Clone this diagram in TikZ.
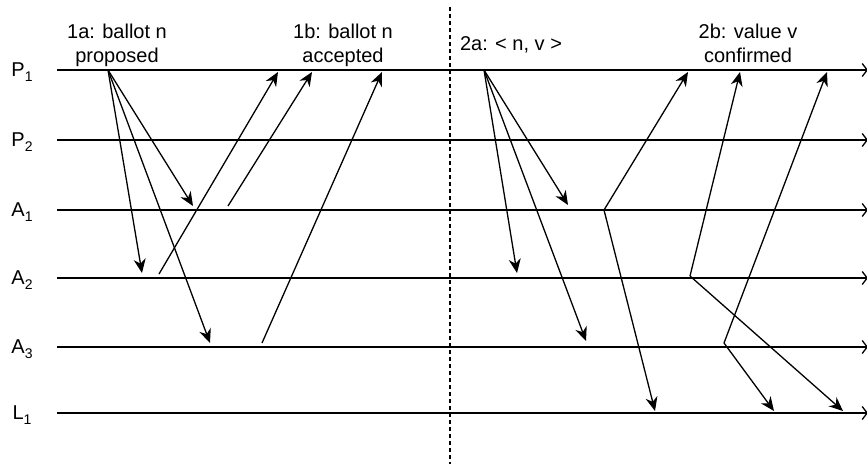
\documentclass[tikz,border=0pt]{standalone}
\usepackage{fontspec}
\setmainfont{Liberation Sans}
\usetikzlibrary{arrows.meta}
\newcommand{\procname}[2]{#1\raisebox{-5pt}{\fontsize{14}{14}\selectfont #2}}
\begin{document}
\begin{tikzpicture}[x=1pt,y=-1pt,
  timeline/.style={line width=1.5pt, -{Straight Barb[length=5pt,width=13pt,line width=1.3pt]}},
  msg/.style={line width=1.3pt, -{Stealth[length=14pt,width=12pt,inset=4.5pt]}},
  divider/.style={line width=1.3pt, dash pattern=on 4pt off 3pt},
  lbl/.style={font=\fontsize{20}{24}\selectfont, inner sep=0pt, anchor=base},
  note/.style={font=\fontsize{20}{24}\selectfont, inner sep=0pt, align=center, anchor=base}]
\useasboundingbox (0,0) rectangle (867,464);

% process labels
\node[lbl] (lP1) at (22,76) {\procname{P}{1}};
\node[lbl] (lP2) at (22,146) {\procname{P}{2}};
\node[lbl] (lA1) at (22,216) {\procname{A}{1}};
\node[lbl] (lA2) at (22,284) {\procname{A}{2}};
\node[lbl] (lA3) at (22,353) {\procname{A}{3}};
\node[lbl] (lL1) at (22,419) {\procname{L}{1}};

% timelines
\foreach \n/\y in {P1/70,P2/140,A1/210,A2/278,A3/347,L1/413}{
  \coordinate (\n s) at (57,\y);
  \coordinate (\n e) at (868,\y);
  \draw[timeline] (\n s) -- (\n e);
}

% divider
\coordinate (dtop) at (450,7);
\coordinate (dbot) at (450,464);
\draw[divider] (dtop) -- (dbot);

% phase labels
\node[note] (n1a) at (117,62) {1a: ballot n\\proposed};
\node[note] (n1b) at (343,62) {1b: ballot n\\accepted};
\node[note] (n2a) at (511,50) {2a: < n, v >};
\node[note] (n2b) at (748,62) {2b: value v\\confirmed};

% phase 1
\coordinate (p1a) at (108,70);
\coordinate (a1r) at (193,206);
\coordinate (a2r) at (142,273);
\coordinate (a3r) at (210,343);
\draw[msg] (p1a) -- (a1r);
\draw[msg] (p1a) -- (a2r);
\draw[msg] (p1a) -- (a3r);

\coordinate (a2s) at (159,274);
\coordinate (a1s) at (228,206);
\coordinate (a3s) at (262,343);
\coordinate (p1b1) at (278,72);
\coordinate (p1b2) at (312,72);
\coordinate (p1b3) at (382,72);
\draw[msg] (a2s) -- (p1b1);
\draw[msg] (a1s) -- (p1b2);
\draw[msg] (a3s) -- (p1b3);

% phase 2
\coordinate (p2a) at (484,70);
\coordinate (a1v) at (568,205);
\coordinate (a2v) at (517,273);
\coordinate (a3v) at (586,341);
\draw[msg] (p2a) -- (a1v);
\draw[msg] (p2a) -- (a2v);
\draw[msg] (p2a) -- (a3v);

\coordinate (a1c) at (604,210);
\coordinate (a2c) at (690,276);
\coordinate (a3c) at (724,343);
\coordinate (p1c1) at (688,72);
\coordinate (p1c2) at (740,72);
\coordinate (p1c3) at (827,72);
\coordinate (l1c1) at (655,411);
\coordinate (l1c2) at (843,411);
\coordinate (l1c3) at (774,411);
\draw[msg] (a1c) -- (p1c1);
\draw[msg] (a1c) -- (l1c1);
\draw[msg] (a2c) -- (p1c2);
\draw[msg] (a2c) -- (l1c2);
\draw[msg] (a3c) -- (p1c3);
\draw[msg] (a3c) -- (l1c3);
\end{tikzpicture}
\end{document}
